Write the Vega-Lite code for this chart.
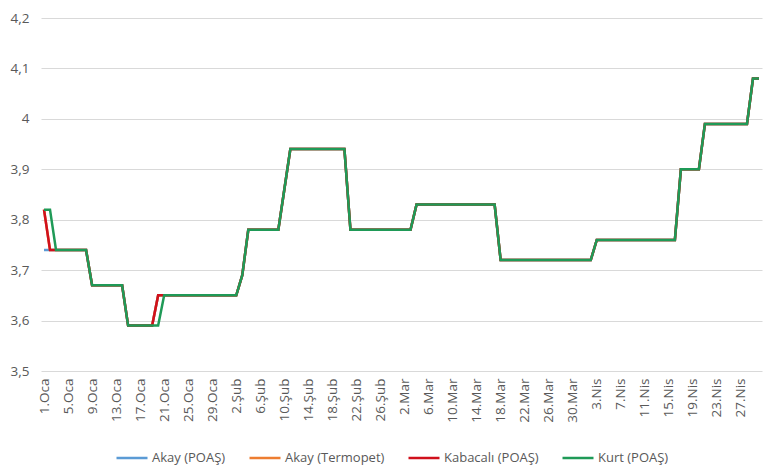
{
  "$schema": "https://vega.github.io/schema/vega-lite/v6.json",
  "width": 721,
  "height": 353,
  "autosize": {"type": "none"},
  "padding": {"left": 41, "top": 18, "right": 18, "bottom": 96},
  "background": "white",
  "config": {
    "view": {"stroke": null},
    "font": "Open Sans",
    "axis": {"labelColor": "#595959", "labelFontSize": 13.5, "titleColor": "#595959"},
    "legend": {"labelColor": "#595959", "labelFontSize": 13}
  },
  "data": {
    "values": [
      {"t": "1.Oca", "Akay (POAŞ)": 3.74, "Akay (Termopet)": 3.82, "Kabacalı (POAŞ)": 3.82, "Kurt (POAŞ)": 3.82},
      {"t": "2.Oca", "Akay (POAŞ)": 3.74, "Akay (Termopet)": 3.74, "Kabacalı (POAŞ)": 3.74, "Kurt (POAŞ)": 3.82},
      {"t": "3.Oca", "Akay (POAŞ)": 3.74, "Akay (Termopet)": 3.74, "Kabacalı (POAŞ)": 3.74, "Kurt (POAŞ)": 3.74},
      {"t": "4.Oca", "Akay (POAŞ)": 3.74, "Akay (Termopet)": 3.74, "Kabacalı (POAŞ)": 3.74, "Kurt (POAŞ)": 3.74},
      {"t": "5.Oca", "Akay (POAŞ)": 3.74, "Akay (Termopet)": 3.74, "Kabacalı (POAŞ)": 3.74, "Kurt (POAŞ)": 3.74},
      {"t": "6.Oca", "Akay (POAŞ)": 3.74, "Akay (Termopet)": 3.74, "Kabacalı (POAŞ)": 3.74, "Kurt (POAŞ)": 3.74},
      {"t": "7.Oca", "Akay (POAŞ)": 3.74, "Akay (Termopet)": 3.74, "Kabacalı (POAŞ)": 3.74, "Kurt (POAŞ)": 3.74},
      {"t": "8.Oca", "Akay (POAŞ)": 3.74, "Akay (Termopet)": 3.74, "Kabacalı (POAŞ)": 3.74, "Kurt (POAŞ)": 3.74},
      {"t": "9.Oca", "Akay (POAŞ)": 3.67, "Akay (Termopet)": 3.67, "Kabacalı (POAŞ)": 3.67, "Kurt (POAŞ)": 3.67},
      {"t": "10.Oca", "Akay (POAŞ)": 3.67, "Akay (Termopet)": 3.67, "Kabacalı (POAŞ)": 3.67, "Kurt (POAŞ)": 3.67},
      {"t": "11.Oca", "Akay (POAŞ)": 3.67, "Akay (Termopet)": 3.67, "Kabacalı (POAŞ)": 3.67, "Kurt (POAŞ)": 3.67},
      {"t": "12.Oca", "Akay (POAŞ)": 3.67, "Akay (Termopet)": 3.67, "Kabacalı (POAŞ)": 3.67, "Kurt (POAŞ)": 3.67},
      {"t": "13.Oca", "Akay (POAŞ)": 3.67, "Akay (Termopet)": 3.67, "Kabacalı (POAŞ)": 3.67, "Kurt (POAŞ)": 3.67},
      {"t": "14.Oca", "Akay (POAŞ)": 3.67, "Akay (Termopet)": 3.67, "Kabacalı (POAŞ)": 3.67, "Kurt (POAŞ)": 3.67},
      {"t": "15.Oca", "Akay (POAŞ)": 3.59, "Akay (Termopet)": 3.59, "Kabacalı (POAŞ)": 3.59, "Kurt (POAŞ)": 3.59},
      {"t": "16.Oca", "Akay (POAŞ)": 3.59, "Akay (Termopet)": 3.59, "Kabacalı (POAŞ)": 3.59, "Kurt (POAŞ)": 3.59},
      {"t": "17.Oca", "Akay (POAŞ)": 3.59, "Akay (Termopet)": 3.59, "Kabacalı (POAŞ)": 3.59, "Kurt (POAŞ)": 3.59},
      {"t": "18.Oca", "Akay (POAŞ)": 3.59, "Akay (Termopet)": 3.59, "Kabacalı (POAŞ)": 3.59, "Kurt (POAŞ)": 3.59},
      {"t": "19.Oca", "Akay (POAŞ)": 3.59, "Akay (Termopet)": 3.59, "Kabacalı (POAŞ)": 3.59, "Kurt (POAŞ)": 3.59},
      {"t": "20.Oca", "Akay (POAŞ)": 3.65, "Akay (Termopet)": 3.65, "Kabacalı (POAŞ)": 3.65, "Kurt (POAŞ)": 3.59},
      {"t": "21.Oca", "Akay (POAŞ)": 3.65, "Akay (Termopet)": 3.65, "Kabacalı (POAŞ)": 3.65, "Kurt (POAŞ)": 3.65},
      {"t": "22.Oca", "Akay (POAŞ)": 3.65, "Akay (Termopet)": 3.65, "Kabacalı (POAŞ)": 3.65, "Kurt (POAŞ)": 3.65},
      {"t": "23.Oca", "Akay (POAŞ)": 3.65, "Akay (Termopet)": 3.65, "Kabacalı (POAŞ)": 3.65, "Kurt (POAŞ)": 3.65},
      {"t": "24.Oca", "Akay (POAŞ)": 3.65, "Akay (Termopet)": 3.65, "Kabacalı (POAŞ)": 3.65, "Kurt (POAŞ)": 3.65},
      {"t": "25.Oca", "Akay (POAŞ)": 3.65, "Akay (Termopet)": 3.65, "Kabacalı (POAŞ)": 3.65, "Kurt (POAŞ)": 3.65},
      {"t": "26.Oca", "Akay (POAŞ)": 3.65, "Akay (Termopet)": 3.65, "Kabacalı (POAŞ)": 3.65, "Kurt (POAŞ)": 3.65},
      {"t": "27.Oca", "Akay (POAŞ)": 3.65, "Akay (Termopet)": 3.65, "Kabacalı (POAŞ)": 3.65, "Kurt (POAŞ)": 3.65},
      {"t": "28.Oca", "Akay (POAŞ)": 3.65, "Akay (Termopet)": 3.65, "Kabacalı (POAŞ)": 3.65, "Kurt (POAŞ)": 3.65},
      {"t": "29.Oca", "Akay (POAŞ)": 3.65, "Akay (Termopet)": 3.65, "Kabacalı (POAŞ)": 3.65, "Kurt (POAŞ)": 3.65},
      {"t": "30.Oca", "Akay (POAŞ)": 3.65, "Akay (Termopet)": 3.65, "Kabacalı (POAŞ)": 3.65, "Kurt (POAŞ)": 3.65},
      {"t": "31.Oca", "Akay (POAŞ)": 3.65, "Akay (Termopet)": 3.65, "Kabacalı (POAŞ)": 3.65, "Kurt (POAŞ)": 3.65},
      {"t": "1.Şub", "Akay (POAŞ)": 3.65, "Akay (Termopet)": 3.65, "Kabacalı (POAŞ)": 3.65, "Kurt (POAŞ)": 3.65},
      {"t": "2.Şub", "Akay (POAŞ)": 3.65, "Akay (Termopet)": 3.65, "Kabacalı (POAŞ)": 3.65, "Kurt (POAŞ)": 3.65},
      {"t": "3.Şub", "Akay (POAŞ)": 3.69, "Akay (Termopet)": 3.69, "Kabacalı (POAŞ)": 3.69, "Kurt (POAŞ)": 3.69},
      {"t": "4.Şub", "Akay (POAŞ)": 3.78, "Akay (Termopet)": 3.78, "Kabacalı (POAŞ)": 3.78, "Kurt (POAŞ)": 3.78},
      {"t": "5.Şub", "Akay (POAŞ)": 3.78, "Akay (Termopet)": 3.78, "Kabacalı (POAŞ)": 3.78, "Kurt (POAŞ)": 3.78},
      {"t": "6.Şub", "Akay (POAŞ)": 3.78, "Akay (Termopet)": 3.78, "Kabacalı (POAŞ)": 3.78, "Kurt (POAŞ)": 3.78},
      {"t": "7.Şub", "Akay (POAŞ)": 3.78, "Akay (Termopet)": 3.78, "Kabacalı (POAŞ)": 3.78, "Kurt (POAŞ)": 3.78},
      {"t": "8.Şub", "Akay (POAŞ)": 3.78, "Akay (Termopet)": 3.78, "Kabacalı (POAŞ)": 3.78, "Kurt (POAŞ)": 3.78},
      {"t": "9.Şub", "Akay (POAŞ)": 3.78, "Akay (Termopet)": 3.78, "Kabacalı (POAŞ)": 3.78, "Kurt (POAŞ)": 3.78},
      {"t": "10.Şub", "Akay (POAŞ)": 3.86, "Akay (Termopet)": 3.86, "Kabacalı (POAŞ)": 3.86, "Kurt (POAŞ)": 3.86},
      {"t": "11.Şub", "Akay (POAŞ)": 3.94, "Akay (Termopet)": 3.94, "Kabacalı (POAŞ)": 3.94, "Kurt (POAŞ)": 3.94},
      {"t": "12.Şub", "Akay (POAŞ)": 3.94, "Akay (Termopet)": 3.94, "Kabacalı (POAŞ)": 3.94, "Kurt (POAŞ)": 3.94},
      {"t": "13.Şub", "Akay (POAŞ)": 3.94, "Akay (Termopet)": 3.94, "Kabacalı (POAŞ)": 3.94, "Kurt (POAŞ)": 3.94},
      {"t": "14.Şub", "Akay (POAŞ)": 3.94, "Akay (Termopet)": 3.94, "Kabacalı (POAŞ)": 3.94, "Kurt (POAŞ)": 3.94},
      {"t": "15.Şub", "Akay (POAŞ)": 3.94, "Akay (Termopet)": 3.94, "Kabacalı (POAŞ)": 3.94, "Kurt (POAŞ)": 3.94},
      {"t": "16.Şub", "Akay (POAŞ)": 3.94, "Akay (Termopet)": 3.94, "Kabacalı (POAŞ)": 3.94, "Kurt (POAŞ)": 3.94},
      {"t": "17.Şub", "Akay (POAŞ)": 3.94, "Akay (Termopet)": 3.94, "Kabacalı (POAŞ)": 3.94, "Kurt (POAŞ)": 3.94},
      {"t": "18.Şub", "Akay (POAŞ)": 3.94, "Akay (Termopet)": 3.94, "Kabacalı (POAŞ)": 3.94, "Kurt (POAŞ)": 3.94},
      {"t": "19.Şub", "Akay (POAŞ)": 3.94, "Akay (Termopet)": 3.94, "Kabacalı (POAŞ)": 3.94, "Kurt (POAŞ)": 3.94},
      {"t": "20.Şub", "Akay (POAŞ)": 3.94, "Akay (Termopet)": 3.94, "Kabacalı (POAŞ)": 3.94, "Kurt (POAŞ)": 3.94},
      {"t": "21.Şub", "Akay (POAŞ)": 3.78, "Akay (Termopet)": 3.78, "Kabacalı (POAŞ)": 3.78, "Kurt (POAŞ)": 3.78},
      {"t": "22.Şub", "Akay (POAŞ)": 3.78, "Akay (Termopet)": 3.78, "Kabacalı (POAŞ)": 3.78, "Kurt (POAŞ)": 3.78},
      {"t": "23.Şub", "Akay (POAŞ)": 3.78, "Akay (Termopet)": 3.78, "Kabacalı (POAŞ)": 3.78, "Kurt (POAŞ)": 3.78},
      {"t": "24.Şub", "Akay (POAŞ)": 3.78, "Akay (Termopet)": 3.78, "Kabacalı (POAŞ)": 3.78, "Kurt (POAŞ)": 3.78},
      {"t": "25.Şub", "Akay (POAŞ)": 3.78, "Akay (Termopet)": 3.78, "Kabacalı (POAŞ)": 3.78, "Kurt (POAŞ)": 3.78},
      {"t": "26.Şub", "Akay (POAŞ)": 3.78, "Akay (Termopet)": 3.78, "Kabacalı (POAŞ)": 3.78, "Kurt (POAŞ)": 3.78},
      {"t": "27.Şub", "Akay (POAŞ)": 3.78, "Akay (Termopet)": 3.78, "Kabacalı (POAŞ)": 3.78, "Kurt (POAŞ)": 3.78},
      {"t": "28.Şub", "Akay (POAŞ)": 3.78, "Akay (Termopet)": 3.78, "Kabacalı (POAŞ)": 3.78, "Kurt (POAŞ)": 3.78},
      {"t": "1.Mar", "Akay (POAŞ)": 3.78, "Akay (Termopet)": 3.78, "Kabacalı (POAŞ)": 3.78, "Kurt (POAŞ)": 3.78},
      {"t": "2.Mar", "Akay (POAŞ)": 3.78, "Akay (Termopet)": 3.78, "Kabacalı (POAŞ)": 3.78, "Kurt (POAŞ)": 3.78},
      {"t": "3.Mar", "Akay (POAŞ)": 3.78, "Akay (Termopet)": 3.78, "Kabacalı (POAŞ)": 3.78, "Kurt (POAŞ)": 3.78},
      {"t": "4.Mar", "Akay (POAŞ)": 3.83, "Akay (Termopet)": 3.83, "Kabacalı (POAŞ)": 3.83, "Kurt (POAŞ)": 3.83},
      {"t": "5.Mar", "Akay (POAŞ)": 3.83, "Akay (Termopet)": 3.83, "Kabacalı (POAŞ)": 3.83, "Kurt (POAŞ)": 3.83},
      {"t": "6.Mar", "Akay (POAŞ)": 3.83, "Akay (Termopet)": 3.83, "Kabacalı (POAŞ)": 3.83, "Kurt (POAŞ)": 3.83},
      {"t": "7.Mar", "Akay (POAŞ)": 3.83, "Akay (Termopet)": 3.83, "Kabacalı (POAŞ)": 3.83, "Kurt (POAŞ)": 3.83},
      {"t": "8.Mar", "Akay (POAŞ)": 3.83, "Akay (Termopet)": 3.83, "Kabacalı (POAŞ)": 3.83, "Kurt (POAŞ)": 3.83},
      {"t": "9.Mar", "Akay (POAŞ)": 3.83, "Akay (Termopet)": 3.83, "Kabacalı (POAŞ)": 3.83, "Kurt (POAŞ)": 3.83},
      {"t": "10.Mar", "Akay (POAŞ)": 3.83, "Akay (Termopet)": 3.83, "Kabacalı (POAŞ)": 3.83, "Kurt (POAŞ)": 3.83},
      {"t": "11.Mar", "Akay (POAŞ)": 3.83, "Akay (Termopet)": 3.83, "Kabacalı (POAŞ)": 3.83, "Kurt (POAŞ)": 3.83},
      {"t": "12.Mar", "Akay (POAŞ)": 3.83, "Akay (Termopet)": 3.83, "Kabacalı (POAŞ)": 3.83, "Kurt (POAŞ)": 3.83},
      {"t": "13.Mar", "Akay (POAŞ)": 3.83, "Akay (Termopet)": 3.83, "Kabacalı (POAŞ)": 3.83, "Kurt (POAŞ)": 3.83},
      {"t": "14.Mar", "Akay (POAŞ)": 3.83, "Akay (Termopet)": 3.83, "Kabacalı (POAŞ)": 3.83, "Kurt (POAŞ)": 3.83},
      {"t": "15.Mar", "Akay (POAŞ)": 3.83, "Akay (Termopet)": 3.83, "Kabacalı (POAŞ)": 3.83, "Kurt (POAŞ)": 3.83},
      {"t": "16.Mar", "Akay (POAŞ)": 3.83, "Akay (Termopet)": 3.83, "Kabacalı (POAŞ)": 3.83, "Kurt (POAŞ)": 3.83},
      {"t": "17.Mar", "Akay (POAŞ)": 3.83, "Akay (Termopet)": 3.83, "Kabacalı (POAŞ)": 3.83, "Kurt (POAŞ)": 3.83},
      {"t": "18.Mar", "Akay (POAŞ)": 3.72, "Akay (Termopet)": 3.72, "Kabacalı (POAŞ)": 3.72, "Kurt (POAŞ)": 3.72},
      {"t": "19.Mar", "Akay (POAŞ)": 3.72, "Akay (Termopet)": 3.72, "Kabacalı (POAŞ)": 3.72, "Kurt (POAŞ)": 3.72},
      {"t": "20.Mar", "Akay (POAŞ)": 3.72, "Akay (Termopet)": 3.72, "Kabacalı (POAŞ)": 3.72, "Kurt (POAŞ)": 3.72},
      {"t": "21.Mar", "Akay (POAŞ)": 3.72, "Akay (Termopet)": 3.72, "Kabacalı (POAŞ)": 3.72, "Kurt (POAŞ)": 3.72},
      {"t": "22.Mar", "Akay (POAŞ)": 3.72, "Akay (Termopet)": 3.72, "Kabacalı (POAŞ)": 3.72, "Kurt (POAŞ)": 3.72},
      {"t": "23.Mar", "Akay (POAŞ)": 3.72, "Akay (Termopet)": 3.72, "Kabacalı (POAŞ)": 3.72, "Kurt (POAŞ)": 3.72},
      {"t": "24.Mar", "Akay (POAŞ)": 3.72, "Akay (Termopet)": 3.72, "Kabacalı (POAŞ)": 3.72, "Kurt (POAŞ)": 3.72},
      {"t": "25.Mar", "Akay (POAŞ)": 3.72, "Akay (Termopet)": 3.72, "Kabacalı (POAŞ)": 3.72, "Kurt (POAŞ)": 3.72},
      {"t": "26.Mar", "Akay (POAŞ)": 3.72, "Akay (Termopet)": 3.72, "Kabacalı (POAŞ)": 3.72, "Kurt (POAŞ)": 3.72},
      {"t": "27.Mar", "Akay (POAŞ)": 3.72, "Akay (Termopet)": 3.72, "Kabacalı (POAŞ)": 3.72, "Kurt (POAŞ)": 3.72},
      {"t": "28.Mar", "Akay (POAŞ)": 3.72, "Akay (Termopet)": 3.72, "Kabacalı (POAŞ)": 3.72, "Kurt (POAŞ)": 3.72},
      {"t": "29.Mar", "Akay (POAŞ)": 3.72, "Akay (Termopet)": 3.72, "Kabacalı (POAŞ)": 3.72, "Kurt (POAŞ)": 3.72},
      {"t": "30.Mar", "Akay (POAŞ)": 3.72, "Akay (Termopet)": 3.72, "Kabacalı (POAŞ)": 3.72, "Kurt (POAŞ)": 3.72},
      {"t": "31.Mar", "Akay (POAŞ)": 3.72, "Akay (Termopet)": 3.72, "Kabacalı (POAŞ)": 3.72, "Kurt (POAŞ)": 3.72},
      {"t": "1.Nis", "Akay (POAŞ)": 3.72, "Akay (Termopet)": 3.72, "Kabacalı (POAŞ)": 3.72, "Kurt (POAŞ)": 3.72},
      {"t": "2.Nis", "Akay (POAŞ)": 3.72, "Akay (Termopet)": 3.72, "Kabacalı (POAŞ)": 3.72, "Kurt (POAŞ)": 3.72},
      {"t": "3.Nis", "Akay (POAŞ)": 3.76, "Akay (Termopet)": 3.76, "Kabacalı (POAŞ)": 3.76, "Kurt (POAŞ)": 3.76},
      {"t": "4.Nis", "Akay (POAŞ)": 3.76, "Akay (Termopet)": 3.76, "Kabacalı (POAŞ)": 3.76, "Kurt (POAŞ)": 3.76},
      {"t": "5.Nis", "Akay (POAŞ)": 3.76, "Akay (Termopet)": 3.76, "Kabacalı (POAŞ)": 3.76, "Kurt (POAŞ)": 3.76},
      {"t": "6.Nis", "Akay (POAŞ)": 3.76, "Akay (Termopet)": 3.76, "Kabacalı (POAŞ)": 3.76, "Kurt (POAŞ)": 3.76},
      {"t": "7.Nis", "Akay (POAŞ)": 3.76, "Akay (Termopet)": 3.76, "Kabacalı (POAŞ)": 3.76, "Kurt (POAŞ)": 3.76},
      {"t": "8.Nis", "Akay (POAŞ)": 3.76, "Akay (Termopet)": 3.76, "Kabacalı (POAŞ)": 3.76, "Kurt (POAŞ)": 3.76},
      {"t": "9.Nis", "Akay (POAŞ)": 3.76, "Akay (Termopet)": 3.76, "Kabacalı (POAŞ)": 3.76, "Kurt (POAŞ)": 3.76},
      {"t": "10.Nis", "Akay (POAŞ)": 3.76, "Akay (Termopet)": 3.76, "Kabacalı (POAŞ)": 3.76, "Kurt (POAŞ)": 3.76},
      {"t": "11.Nis", "Akay (POAŞ)": 3.76, "Akay (Termopet)": 3.76, "Kabacalı (POAŞ)": 3.76, "Kurt (POAŞ)": 3.76},
      {"t": "12.Nis", "Akay (POAŞ)": 3.76, "Akay (Termopet)": 3.76, "Kabacalı (POAŞ)": 3.76, "Kurt (POAŞ)": 3.76},
      {"t": "13.Nis", "Akay (POAŞ)": 3.76, "Akay (Termopet)": 3.76, "Kabacalı (POAŞ)": 3.76, "Kurt (POAŞ)": 3.76},
      {"t": "14.Nis", "Akay (POAŞ)": 3.76, "Akay (Termopet)": 3.76, "Kabacalı (POAŞ)": 3.76, "Kurt (POAŞ)": 3.76},
      {"t": "15.Nis", "Akay (POAŞ)": 3.76, "Akay (Termopet)": 3.76, "Kabacalı (POAŞ)": 3.76, "Kurt (POAŞ)": 3.76},
      {"t": "16.Nis", "Akay (POAŞ)": 3.76, "Akay (Termopet)": 3.76, "Kabacalı (POAŞ)": 3.76, "Kurt (POAŞ)": 3.76},
      {"t": "17.Nis", "Akay (POAŞ)": 3.9, "Akay (Termopet)": 3.9, "Kabacalı (POAŞ)": 3.9, "Kurt (POAŞ)": 3.9},
      {"t": "18.Nis", "Akay (POAŞ)": 3.9, "Akay (Termopet)": 3.9, "Kabacalı (POAŞ)": 3.9, "Kurt (POAŞ)": 3.9},
      {"t": "19.Nis", "Akay (POAŞ)": 3.9, "Akay (Termopet)": 3.9, "Kabacalı (POAŞ)": 3.9, "Kurt (POAŞ)": 3.9},
      {"t": "20.Nis", "Akay (POAŞ)": 3.9, "Akay (Termopet)": 3.9, "Kabacalı (POAŞ)": 3.9, "Kurt (POAŞ)": 3.9},
      {"t": "21.Nis", "Akay (POAŞ)": 3.99, "Akay (Termopet)": 3.99, "Kabacalı (POAŞ)": 3.99, "Kurt (POAŞ)": 3.99},
      {"t": "22.Nis", "Akay (POAŞ)": 3.99, "Akay (Termopet)": 3.99, "Kabacalı (POAŞ)": 3.99, "Kurt (POAŞ)": 3.99},
      {"t": "23.Nis", "Akay (POAŞ)": 3.99, "Akay (Termopet)": 3.99, "Kabacalı (POAŞ)": 3.99, "Kurt (POAŞ)": 3.99},
      {"t": "24.Nis", "Akay (POAŞ)": 3.99, "Akay (Termopet)": 3.99, "Kabacalı (POAŞ)": 3.99, "Kurt (POAŞ)": 3.99},
      {"t": "25.Nis", "Akay (POAŞ)": 3.99, "Akay (Termopet)": 3.99, "Kabacalı (POAŞ)": 3.99, "Kurt (POAŞ)": 3.99},
      {"t": "26.Nis", "Akay (POAŞ)": 3.99, "Akay (Termopet)": 3.99, "Kabacalı (POAŞ)": 3.99, "Kurt (POAŞ)": 3.99},
      {"t": "27.Nis", "Akay (POAŞ)": 3.99, "Akay (Termopet)": 3.99, "Kabacalı (POAŞ)": 3.99, "Kurt (POAŞ)": 3.99},
      {"t": "28.Nis", "Akay (POAŞ)": 3.99, "Akay (Termopet)": 3.99, "Kabacalı (POAŞ)": 3.99, "Kurt (POAŞ)": 3.99},
      {"t": "29.Nis", "Akay (POAŞ)": 4.08, "Akay (Termopet)": 4.08, "Kabacalı (POAŞ)": 4.08, "Kurt (POAŞ)": 4.08},
      {"t": "30.Nis", "Akay (POAŞ)": 4.08, "Akay (Termopet)": 4.08, "Kabacalı (POAŞ)": 4.08, "Kurt (POAŞ)": 4.08}
    ]
  },
  "transform": [
    {"fold": ["Akay (POAŞ)", "Akay (Termopet)", "Kabacalı (POAŞ)", "Kurt (POAŞ)"], "as": ["seri", "fiyat"]}
  ],
  "mark": {"type": "line", "strokeWidth": 2.5},
  "encoding": {
    "x": {
      "field": "t",
      "type": "ordinal",
      "sort": null,
      "scale": {"type": "point", "padding": 0.5},
      "axis": {
        "title": null,
        "values": ["1.Oca", "5.Oca", "9.Oca", "13.Oca", "17.Oca", "21.Oca", "25.Oca", "29.Oca", "2.Şub", "6.Şub", "10.Şub", "14.Şub", "18.Şub", "22.Şub", "26.Şub", "2.Mar", "6.Mar", "10.Mar", "14.Mar", "18.Mar", "22.Mar", "26.Mar", "30.Mar", "3.Nis", "7.Nis", "11.Nis", "15.Nis", "19.Nis", "23.Nis", "27.Nis"],
        "labelAngle": -90,
        "labelPadding": 7,
        "ticks": false,
        "tickSize": 0,
        "domain": false,
        "grid": false
      }
    },
    "y": {
      "field": "fiyat",
      "type": "quantitative",
      "scale": {"domain": [3.5, 4.2], "nice": false, "zero": false},
      "axis": {
        "title": null,
        "values": [3.5, 3.6, 3.7, 3.8, 3.9, 4.0, 4.1, 4.2],
        "labelExpr": "replace(format(datum.value, '.2~r'), '.', ',')",
        "labelPadding": 12,
        "ticks": false,
        "tickSize": 0,
        "domain": false,
        "gridColor": "#d9d9d9",
        "gridWidth": 1
      }
    },
    "color": {
      "field": "seri",
      "type": "nominal",
      "scale": {
        "domain": ["Akay (POAŞ)", "Akay (Termopet)", "Kabacalı (POAŞ)", "Kurt (POAŞ)"],
        "range": ["#5b9bd5", "#ed7d31", "#d0101c", "#1f9a57"]
      },
      "legend": {
        "title": null,
        "orient": "none",
        "direction": "horizontal",
        "legendX": 74,
        "legendY": 423,
        "symbolType": "stroke",
        "symbolSize": 961,
        "symbolStrokeWidth": 2.5,
        "labelOffset": 3,
        "columnPadding": 18
      }
    },
    "order": {"value": null}
  }
}
